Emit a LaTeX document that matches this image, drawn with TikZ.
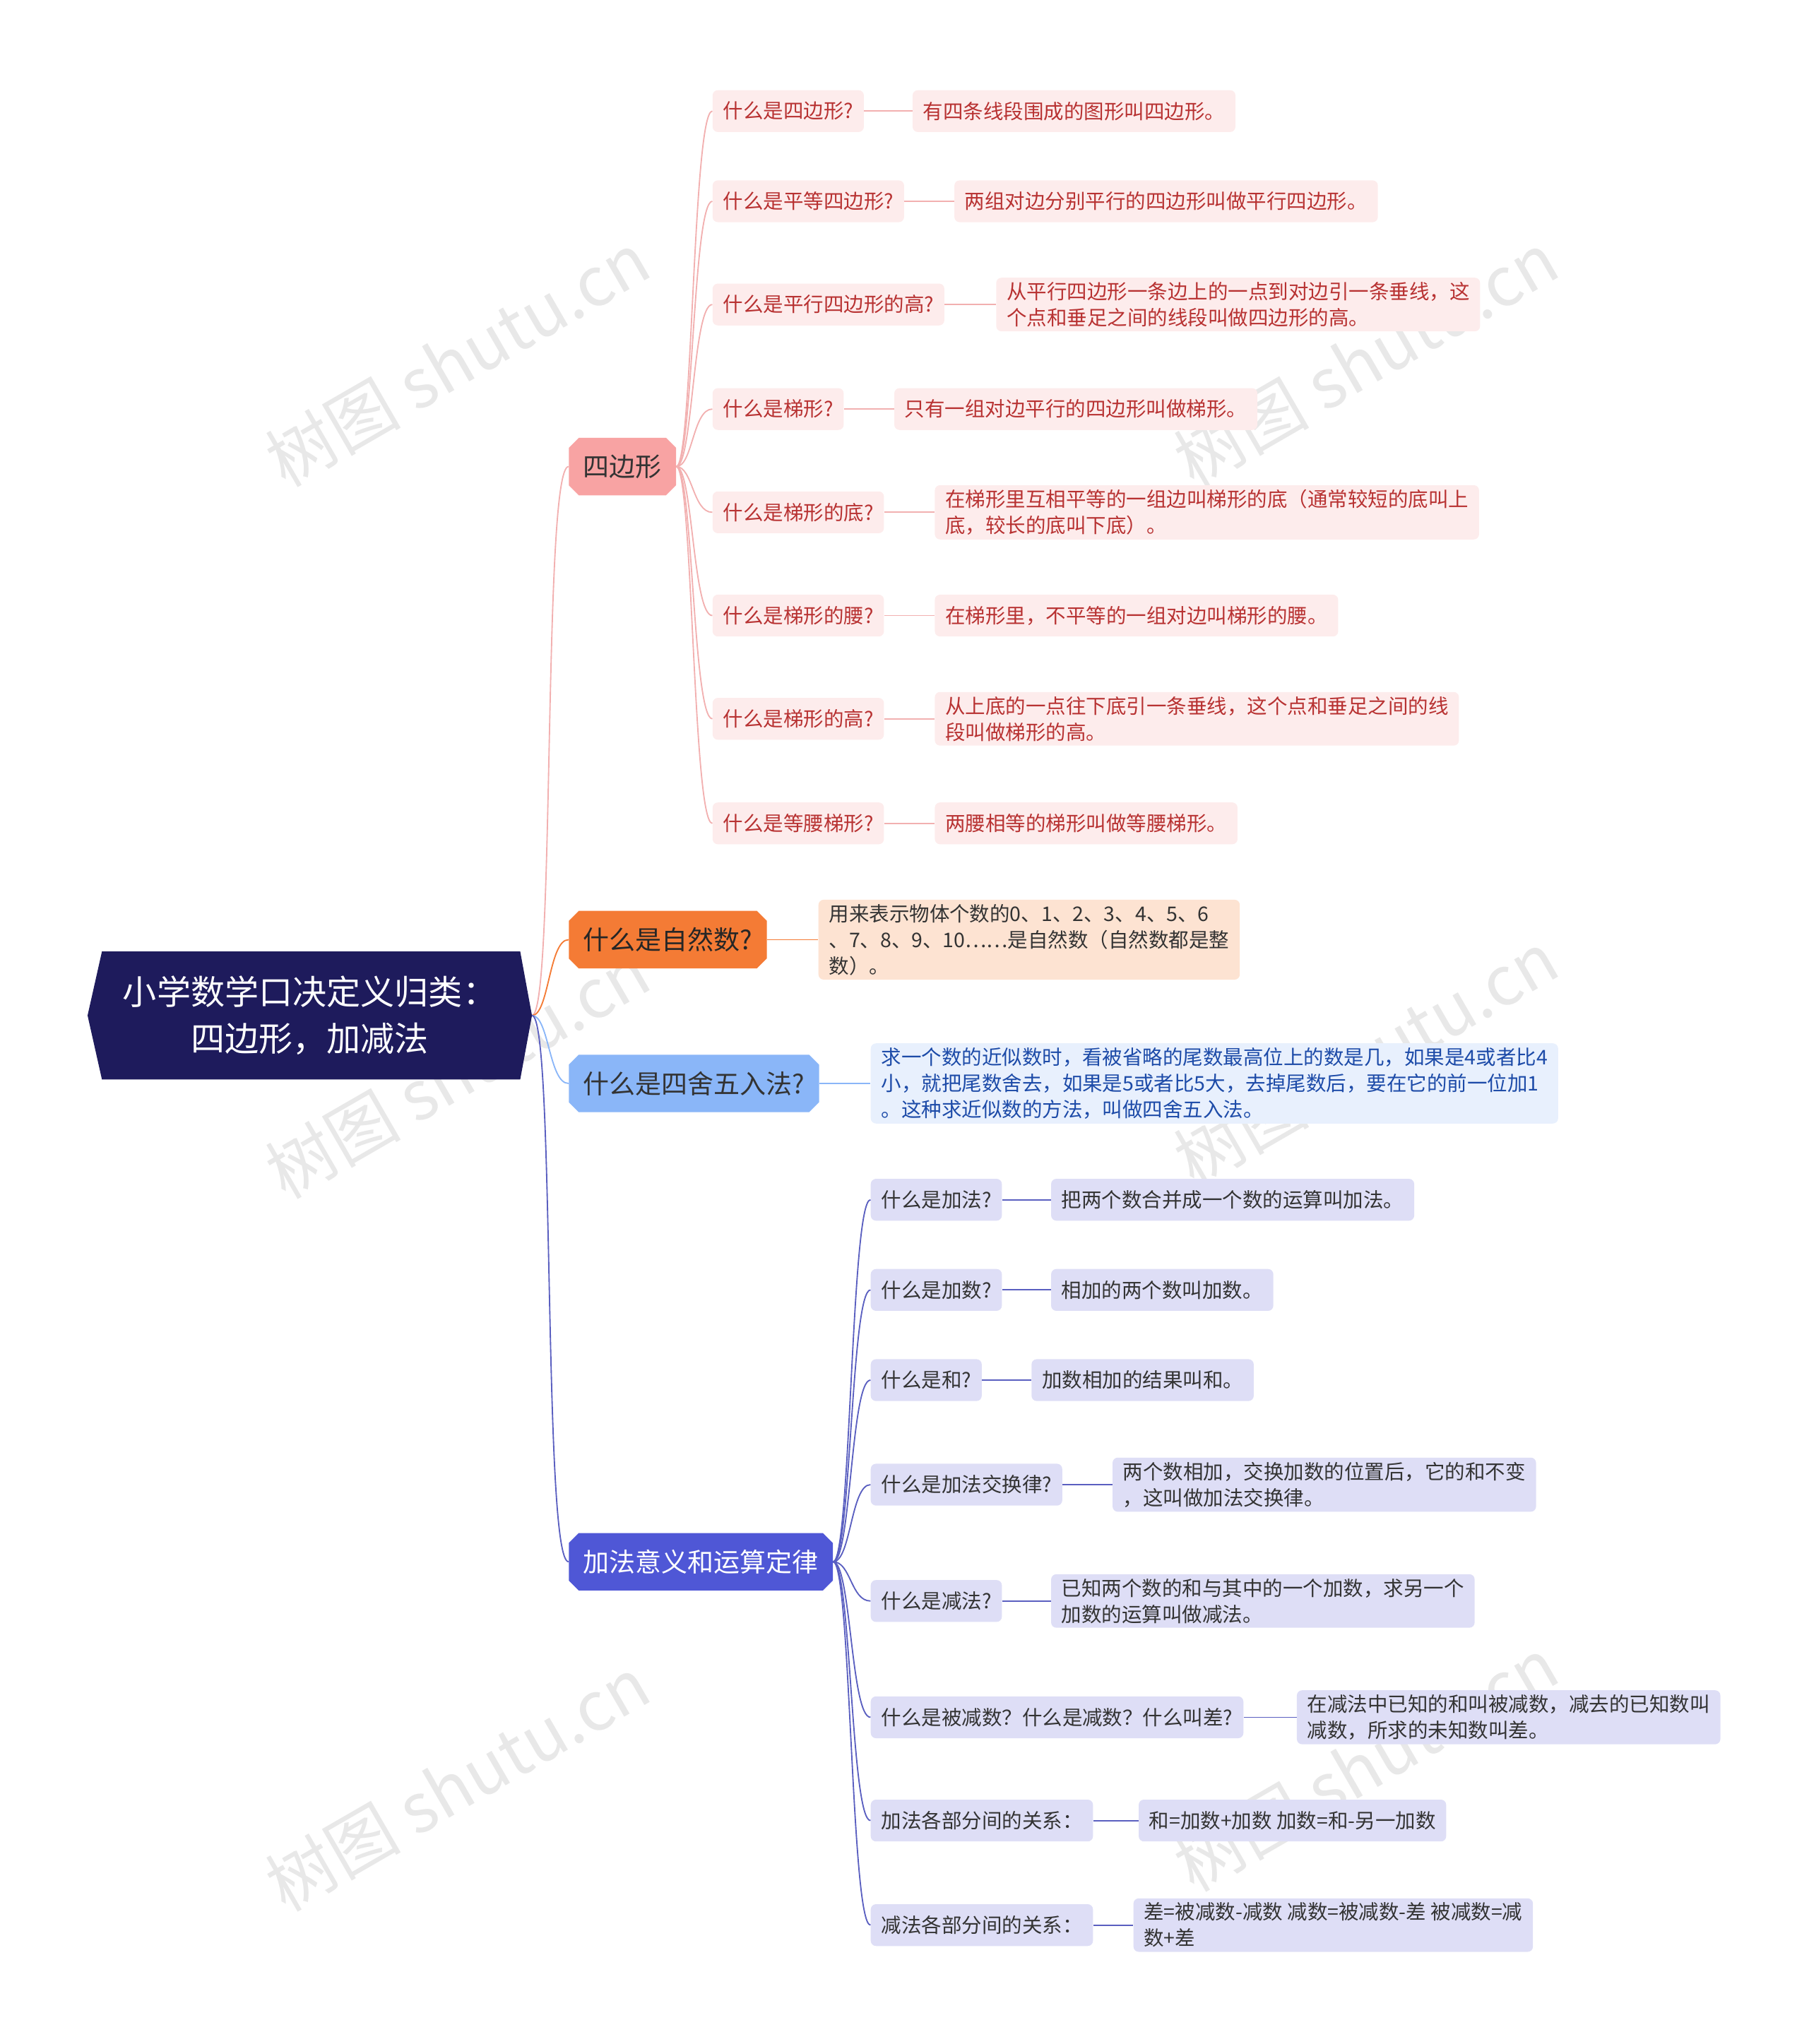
\documentclass[tikz,border=0pt]{standalone}
\usepackage{fontspec}
\setmainfont{Noto Sans CJK SC}
\usetikzlibrary{shapes.misc}
\definecolor{navy}{HTML}{1E1B5C}
\definecolor{pinkL}{HTML}{F8A3A3}
\definecolor{pinkBg}{HTML}{FDECEC}
\definecolor{redT}{HTML}{B83232}
\definecolor{pinkLine}{HTML}{F2B0B0}
\definecolor{orangeL}{HTML}{F47B35}
\definecolor{orangeBg}{HTML}{FDE3D2}
\definecolor{blueL}{HTML}{8AB6F8}
\definecolor{blueBg}{HTML}{E8F0FD}
\definecolor{blueT}{HTML}{1D4BA8}
\definecolor{purpleL}{HTML}{4F57D6}
\definecolor{purpleBg}{HTML}{DEDEF6}
\definecolor{purpleLine}{HTML}{5A5FC0}
\begin{document}
\begin{tikzpicture}[x=1pt,y=-1pt,
  lvA/.style={chamfered rectangle,chamfered rectangle xsep=4pt,chamfered rectangle angle=45,inner xsep=7pt,minimum height=44pt,anchor=west,font=\fontsize{20}{24}\selectfont},
  qbox/.style={rounded corners=4pt,anchor=west,inner xsep=8pt,minimum height=32pt,font=\fontsize{15.4}{20}\selectfont,align=left},
  qp/.style={qbox,fill=pinkBg,text=redT},
  qv/.style={qbox,fill=purpleBg,text=black!80},
  pl/.style={pinkLine,line width=1pt},
  vl/.style={purpleLine,line width=1pt},
  wm/.style={rotate=30,text=black!9,font=\fontsize{52}{56}\selectfont}
]
\useasboundingbox (0,0) rectangle (1384,1564);
% watermarks (behind)
\foreach \x/\y in {350/275,1045/275,350/820,1045/810,350/1365,1045/1350}
  \node[wm] at (\x,\y) {树图 shutu.cn};

\fill[navy] (78,728) -- (398,728) -- (407,777) -- (398,826) -- (78,826) -- (67,777) -- cycle;
\node[text=white,align=center,font=\fontsize{26}{36}\selectfont] (root) at (237,777) {小学数学口决定义归类：\\四边形，加减法};
\coordinate (re) at (407,777);

\node[lvA,fill=pinkL,text=black!80] (b1) at (435,357) {四边形};
\node[lvA,fill=orangeL,text=black!85] (b2) at (435,719) {什么是自然数?};
\node[lvA,fill=blueL,text=black!80] (b3) at (435,829) {什么是四舍五入法?};
\node[lvA,fill=purpleL,text=white] (b4) at (435,1195) {加法意义和运算定律};

\draw[pinkLine,line width=1pt] (re) .. controls (425,777) and (415,357) .. (b1.west);
\draw[orangeL,line width=1pt] (re) .. controls (420,777) and (420,719) .. (b2.west);
\draw[blueL,line width=1pt] (re) .. controls (420,777) and (420,829) .. (b3.west);
\draw[purpleLine,line width=1pt] (re) .. controls (425,777) and (415,1195) .. (b4.west);

% branch 1
\node[qp] (q1) at (545,85) {什么是四边形?};
\node[qp] (a1) at (698,85) {有四条线段围成的图形叫四边形。};
\node[qp] (q2) at (545,154) {什么是平等四边形?};
\node[qp] (a2) at (730,154) {两组对边分别平行的四边形叫做平行四边形。};
\node[qp] (q3) at (545,233) {什么是平行四边形的高?};
\node[qp] (a3) at (762,233) {从平行四边形一条边上的一点到对边引一条垂线，这\\个点和垂足之间的线段叫做四边形的高。};
\node[qp] (q4) at (545,313) {什么是梯形?};
\node[qp] (a4) at (684,313) {只有一组对边平行的四边形叫做梯形。};
\node[qp] (q5) at (545,392) {什么是梯形的底?};
\node[qp] (a5) at (715,392) {在梯形里互相平等的一组边叫梯形的底（通常较短的底叫上\\底，较长的底叫下底）。};
\node[qp] (q6) at (545,471) {什么是梯形的腰?};
\node[qp] (a6) at (715,471) {在梯形里，不平等的一组对边叫梯形的腰。};
\node[qp] (q7) at (545,550) {什么是梯形的高?};
\node[qp] (a7) at (715,550) {从上底的一点往下底引一条垂线，这个点和垂足之间的线\\段叫做梯形的高。};
\node[qp] (q8) at (545,630) {什么是等腰梯形?};
\node[qp] (a8) at (715,630) {两腰相等的梯形叫做等腰梯形。};
\foreach \i in {1,...,8}{
  \draw[pl] (b1.east) .. controls (530,357) and (530,0|-q\i.west) .. (q\i.west);
  \draw[pl] (q\i.east) -- (a\i.west);
}

% branch 2,3
\node[qbox,fill=orangeBg,text=black!80] (n1) at (626,719) {用来表示物体个数的0、1、2、3、4、5、6\\、7、8、9、10……是自然数（自然数都是整\\数）。};
\draw[orangeL,line width=1pt] (b2.east) -- (n1.west);
\node[qbox,fill=blueBg,text=blueT] (r1) at (666,829) {求一个数的近似数时，看被省略的尾数最高位上的数是几，如果是4或者比4\\小，就把尾数舍去，如果是5或者比5大，去掉尾数后，要在它的前一位加1\\。这种求近似数的方法，叫做四舍五入法。};
\draw[blueL,line width=1pt] (b3.east) -- (r1.west);

% branch 4
\node[qv] (p1) at (666,918) {什么是加法?};
\node[qv] (c1) at (804,918) {把两个数合并成一个数的运算叫加法。};
\node[qv] (p2) at (666,987) {什么是加数?};
\node[qv] (c2) at (804,987) {相加的两个数叫加数。};
\node[qv] (p3) at (666,1056) {什么是和?};
\node[qv] (c3) at (789,1056) {加数相加的结果叫和。};
\node[qv] (p4) at (666,1136) {什么是加法交换律?};
\node[qv] (c4) at (851,1136) {两个数相加，交换加数的位置后，它的和不变\\，这叫做加法交换律。};
\node[qv] (p5) at (666,1225) {什么是减法?};
\node[qv] (c5) at (804,1225) {已知两个数的和与其中的一个加数，求另一个\\加数的运算叫做减法。};
\node[qv] (p6) at (666,1314) {什么是被减数？什么是减数？什么叫差?};
\node[qv] (c6) at (992,1314) {在减法中已知的和叫被减数，减去的已知数叫\\减数，所求的未知数叫差。};
\node[qv] (p7) at (666,1393) {加法各部分间的关系：};
\node[qv] (c7) at (871,1393) {和=加数+加数 加数=和-另一加数};
\node[qv] (p8) at (666,1473) {减法各部分间的关系：};
\node[qv] (c8) at (867,1473) {差=被减数-减数 减数=被减数-差 被减数=减\\数+差};
\foreach \i in {1,...,8}{
  \draw[vl] (b4.east) .. controls (651,1195) and (651,0|-p\i.west) .. (p\i.west);
  \draw[vl] (p\i.east) -- (c\i.west);
}
\end{tikzpicture}
\end{document}
